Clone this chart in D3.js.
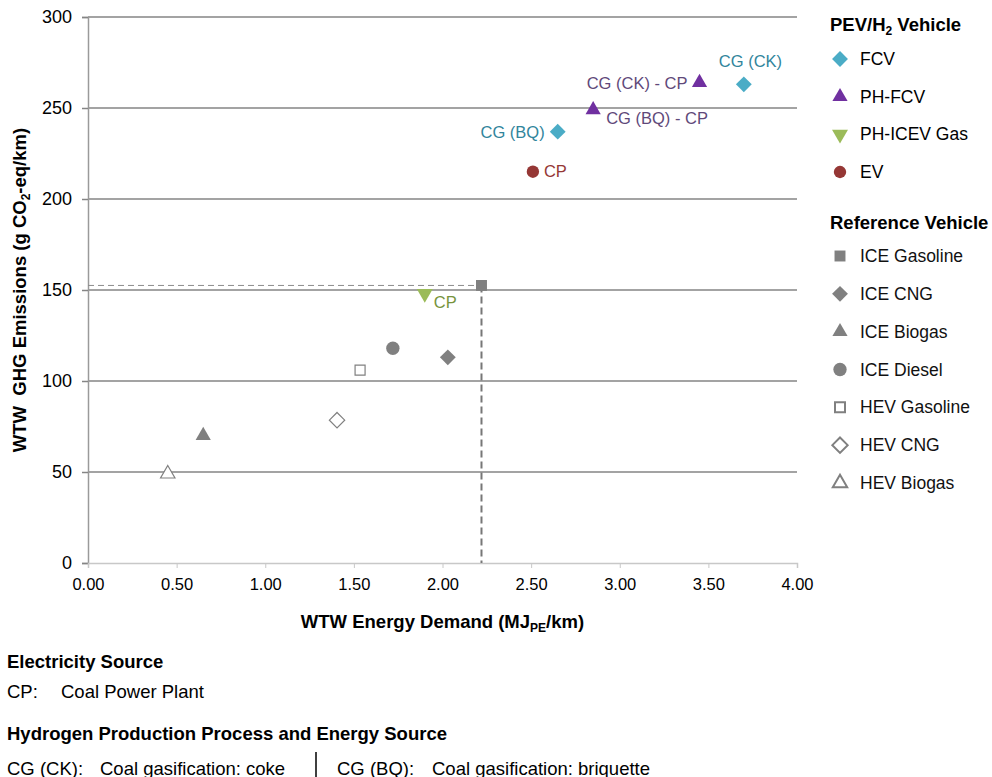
<!DOCTYPE html>
<html>
<head>
<meta charset="utf-8">
<script src="https://cdn.jsdelivr.net/npm/d3@7"></script>
<style>
  body { margin: 0; background: #fff; font-family: "Liberation Sans", Arial, sans-serif; }
  svg text { font-family: "Liberation Sans", Arial, sans-serif; }
</style>
</head>
<body>
<div id="chart"></div>
<script>
// --- data ---
var pevSeries = ["FCV", "PH-FCV", "PH-ICEV Gas", "EV"];
var refSeries = ["ICE Gasoline", "ICE CNG", "ICE Biogas", "ICE Diesel", "HEV Gasoline", "HEV CNG", "HEV Biogas"];

// [series, energy (MJ/km), ghg (g/km), label]
var pevPoints = [
  ["FCV", 3.70, 263, "CG (CK)"],
  ["FCV", 2.65, 237, "CG (BQ)"],
  ["PH-FCV", 3.45, 264, "CG (CK) - CP"],
  ["PH-FCV", 2.85, 249, "CG (BQ) - CP"],
  ["PH-ICEV Gas", 1.90, 148, "CP"],
  ["EV", 2.51, 215, "CP"]
];
var refPoints = [
  ["ICE Gasoline", 2.22, 152.5],
  ["ICE CNG", 2.03, 113],
  ["ICE Biogas", 0.65, 70],
  ["ICE Diesel", 1.72, 118],
  ["HEV Gasoline", 1.535, 106],
  ["HEV CNG", 1.405, 78.5],
  ["HEV Biogas", 0.45, 49]
];
var xTicks = [0, 0.5, 1, 1.5, 2, 2.5, 3, 3.5, 4];
var yTicks = [0, 50, 100, 150, 200, 250, 300];

// --- styles ---
var width = 992, height = 777;
var margin = { top: 17, left: 88, right: 195, bottom: 214 };
var innerW = width - margin.left - margin.right,
    innerH = height - margin.top - margin.bottom;

var grey = "#808080";
var styles = {
  "FCV": { shape: d3.symbolDiamond2, fill: "#4BACC6", stroke: "none", size: 160, label: "#31859C" },
  "PH-FCV": { shape: d3.symbolTriangle, fill: "#7030A0", stroke: "none", size: 100, label: "#5F497A" },
  "PH-ICEV Gas": { shape: "tri-down", fill: "#9BBB59", stroke: "none", size: 110, label: "#77933C" },
  "EV": { shape: d3.symbolCircle, fill: "#953735", stroke: "none", size: 120, label: "#953735" },
  "ICE Gasoline": { shape: d3.symbolSquare, fill: grey, stroke: "none", size: 120 },
  "ICE CNG": { shape: d3.symbolDiamond2, fill: grey, stroke: "none", size: 160 },
  "ICE Biogas": { shape: d3.symbolTriangle, fill: grey, stroke: "none", size: 100 },
  "ICE Diesel": { shape: d3.symbolCircle, fill: grey, stroke: "none", size: 140 },
  "HEV Gasoline": { shape: d3.symbolSquare, fill: "#fff", stroke: grey, size: 100 },
  "HEV CNG": { shape: d3.symbolDiamond2, fill: "#fff", stroke: grey, size: 150 },
  "HEV Biogas": { shape: d3.symbolTriangle, fill: "#fff", stroke: grey, size: 90 }
};

function symPath(name) {
  var s = styles[name];
  var t = s.shape === "tri-down" ? d3.symbolTriangle : s.shape;
  return d3.symbol().type(t).size(s.size)();
}
function symTransform(name, x, y) {
  var rot = styles[name].shape === "tri-down" ? " rotate(180)" : "";
  return "translate(" + x + "," + y + ")" + rot;
}

var svg = d3.select("#chart").append("svg")
  .attr("width", width).attr("height", height);

var g = svg.append("g").attr("transform", "translate(" + margin.left + "," + margin.top + ")");

var x = d3.scaleLinear().domain([0, 4]).range([0, innerW]);
var y = d3.scaleLinear().domain([0, 300]).range([innerH, 0]);

// gridlines
g.append("g").selectAll("line").data(yTicks.filter(function(d) { return d > 0; }))
  .enter().append("line")
  .attr("x1", 0).attr("x2", innerW)
  .attr("y1", function(d) { return y(d); }).attr("y2", function(d) { return y(d); })
  .attr("stroke", "#858585").attr("stroke-width", 1.5);

// y axis
var yAxis = g.append("g")
  .call(d3.axisLeft(y).tickValues(yTicks).tickSize(6).tickPadding(10).tickFormat(d3.format("d")));
yAxis.select(".domain").attr("stroke", "#9a9a9a").attr("stroke-width", 1.5);
yAxis.selectAll(".tick line").attr("stroke", "#858585").attr("stroke-width", 1.5);
yAxis.selectAll("text").attr("font-size", 18).attr("fill", "#000");

// x axis
var xAxis = g.append("g").attr("transform", "translate(0," + innerH + ")")
  .call(d3.axisBottom(x).tickValues(xTicks).tickSize(5).tickPadding(10).tickFormat(d3.format(".2f")));
xAxis.select(".domain").attr("stroke", "#c8c8c8").attr("stroke-width", 1.5);
xAxis.selectAll(".tick line").attr("stroke", "#c8c8c8").attr("stroke-width", 1);
xAxis.selectAll("text").attr("font-size", 16.5).attr("fill", "#000");

// reference dashed lines to ICE gasoline
var ref = refPoints[0];
g.append("line")
  .attr("x1", 0).attr("x2", x(ref[1]))
  .attr("y1", y(ref[2])).attr("y2", y(ref[2]))
  .attr("stroke", "#8c8c8c").attr("stroke-width", 1).attr("stroke-dasharray", "6,4");
g.append("line")
  .attr("x1", x(ref[1])).attr("x2", x(ref[1]))
  .attr("y1", y(ref[2])).attr("y2", innerH)
  .attr("stroke", "#777").attr("stroke-width", 2).attr("stroke-dasharray", "7,4");

// reference points
g.selectAll(".ref").data(refPoints).enter().append("path")
  .attr("class", "ref")
  .attr("d", function(d) { return symPath(d[0]); })
  .attr("transform", function(d) { return symTransform(d[0], x(d[1]), y(d[2])); })
  .attr("fill", function(d) { return styles[d[0]].fill; })
  .attr("stroke", function(d) { return styles[d[0]].stroke; })
  .attr("stroke-width", 1.2);

// PEV points
g.selectAll(".pev").data(pevPoints).enter().append("path")
  .attr("class", "pev")
  .attr("d", function(d) { return symPath(d[0]); })
  .attr("transform", function(d) { return symTransform(d[0], x(d[1]), y(d[2])); })
  .attr("fill", function(d) { return styles[d[0]].fill; });

// point labels: offsets relative to the marker
var labelPos = {
  "CG (CK)":      { dx: -25, dy: -17, anchor: "start" },
  "CG (BQ)":      { dx: -13, dy: 6, anchor: "end" },
  "CG (CK) - CP": { dx: -12, dy: 6, anchor: "end" },
  "CG (BQ) - CP": { dx: 13, dy: 14, anchor: "start" },
  "CP-EV":        { dx: 11, dy: 5, anchor: "start" },
  "CP-PH-ICEV Gas": { dx: 9, dy: 14, anchor: "start" }
};
g.selectAll(".plabel").data(pevPoints).enter().append("text")
  .attr("class", "plabel")
  .each(function(d) {
    var key = d[3] === "CP" ? "CP-" + d[0] : d[3];
    var p = labelPos[key];
    d3.select(this)
      .attr("x", x(d[1]) + p.dx).attr("y", y(d[2]) + p.dy)
      .attr("text-anchor", p.anchor);
  })
  .attr("font-size", 16.5)
  .attr("fill", function(d) { return styles[d[0]].label; })
  .text(function(d) { return d[3]; });

// axis titles
var yt = svg.append("text")
  .attr("transform", "translate(26," + (margin.top + innerH / 2) + ") rotate(-90)")
  .attr("text-anchor", "middle").attr("font-size", 18.5).attr("font-weight", "bold");
yt.append("tspan").text("WTW\u00a0 GHG Emissions (g CO");
yt.append("tspan").attr("font-size", 12).attr("dy", 4).text("2");
yt.append("tspan").attr("dy", -4).text("-eq/km)");

var xt = svg.append("text")
  .attr("x", margin.left + innerW / 2).attr("y", 628)
  .attr("text-anchor", "middle").attr("font-size", 18.5).attr("font-weight", "bold");
xt.append("tspan").text("WTW Energy Demand (MJ");
xt.append("tspan").attr("font-size", 12).attr("dy", 4).text("PE");
xt.append("tspan").attr("dy", -4).text("/km)");

// legend
var lx = 830;
var lt1 = svg.append("text").attr("x", lx).attr("y", 31)
  .attr("font-size", 18.5).attr("font-weight", "bold");
lt1.append("tspan").text("PEV/H");
lt1.append("tspan").attr("font-size", 12).attr("dy", 4).text("2");
lt1.append("tspan").attr("dy", -4).text(" Vehicle");

var pevY = d3.scalePoint().domain(pevSeries).range([59, 172]);
var lg1 = svg.append("g").selectAll("g").data(pevSeries).enter().append("g");
lg1.append("path")
  .attr("d", function(d) { return symPath(d); })
  .attr("transform", function(d) { return symTransform(d, lx + 10, pevY(d)); })
  .attr("fill", function(d) { return styles[d].fill; });
lg1.append("text").attr("x", lx + 30).attr("y", function(d) { return pevY(d) + 6; })
  .attr("font-size", 17.5).attr("fill", "#000").text(function(d) { return d; });

svg.append("text").attr("x", lx).attr("y", 229)
  .attr("font-size", 18.5).attr("font-weight", "bold").text("Reference Vehicle");

var refY = d3.scalePoint().domain(refSeries).range([256, 483]);
var lg2 = svg.append("g").selectAll("g").data(refSeries).enter().append("g");
lg2.append("path")
  .attr("d", function(d) { return symPath(d); })
  .attr("transform", function(d) { return symTransform(d, lx + 10, refY(d)); })
  .attr("fill", function(d) { return styles[d].fill; })
  .attr("stroke", function(d) { return styles[d].stroke; })
  .attr("stroke-width", 2);
lg2.append("text").attr("x", lx + 30).attr("y", function(d) { return refY(d) + 6; })
  .attr("font-size", 17.5).attr("fill", "#111").text(function(d) { return d; });

// notes under the chart
svg.append("text").attr("x", 7).attr("y", 668)
  .attr("font-size", 18.5).attr("font-weight", "bold").text("Electricity Source");
svg.append("text").attr("x", 7).attr("y", 698).attr("font-size", 18.5).text("CP:");
svg.append("text").attr("x", 61).attr("y", 698).attr("font-size", 18.5).text("Coal Power Plant");
svg.append("text").attr("x", 7).attr("y", 740)
  .attr("font-size", 18.5).attr("font-weight", "bold").text("Hydrogen Production Process and Energy Source");
svg.append("text").attr("x", 7).attr("y", 775).attr("font-size", 18.5).text("CG (CK):");
svg.append("text").attr("x", 100).attr("y", 775).attr("font-size", 18.5).text("Coal gasification: coke");
svg.append("line").attr("x1", 316).attr("x2", 316).attr("y1", 752).attr("y2", 777)
  .attr("stroke", "#000").attr("stroke-width", 1.5);
svg.append("text").attr("x", 337).attr("y", 775).attr("font-size", 18.5).text("CG (BQ):");
svg.append("text").attr("x", 432).attr("y", 775).attr("font-size", 18.5).text("Coal gasification: briquette");
</script>
</body>
</html>
